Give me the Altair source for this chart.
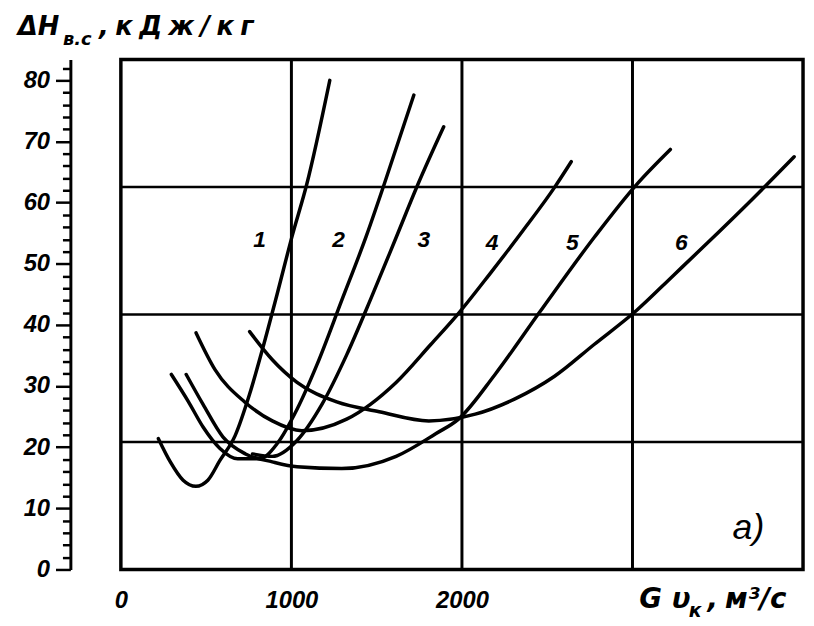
import altair as alt
import pandas as pd

# ---- curve data: x = G v_k (m3/s), y = dH (kJ/kg)
c1_x = [220, 290, 365, 440, 510, 580, 670, 755, 830, 915, 1005, 1090, 1225]
c1_y = [21.4, 17.6, 14.6, 13.6, 14.6, 17.8, 21.9, 28.7, 36.0, 44.9, 54.6, 63.0, 80.0]

c2_x = [296, 395, 482, 581, 685, 813, 917, 1033, 1150, 1295, 1440, 1544, 1718]
c2_y = [31.9, 27.5, 23.3, 19.8, 18.1, 18.1, 20.6, 26.2, 33.5, 44.0, 54.6, 63.0, 77.6]

c3_x = [772, 888, 1033, 1179, 1324, 1469, 1614, 1742, 1893]
c3_y = [18.9, 18.5, 21.1, 27.0, 35.1, 44.5, 54.3, 63.0, 72.4]

c4_x = [441, 552, 726, 888, 1062, 1324, 1614, 1817, 1980, 2165, 2357, 2543, 2641]
c4_y = [38.7, 32.7, 27.4, 24.3, 22.7, 24.6, 30.6, 36.8, 41.9, 48.4, 55.4, 62.5, 66.7]

c5_x = [383, 482, 598, 731, 888, 1033, 1295, 1614, 1846, 1980, 2194, 2456, 2775, 3025, 3222]
c5_y = [31.9, 27.0, 21.7, 18.9, 17.6, 16.8, 16.5, 18.5, 22.2, 24.6, 31.9, 42.1, 54.3, 63.0, 68.7]

c6_x = [755, 888, 1033, 1266, 1515, 1806, 2078, 2311, 2543, 2775, 3025, 3240, 3454, 3704, 3948]
c6_y = [38.9, 34.3, 30.6, 27.4, 25.8, 24.3, 25.4, 27.9, 31.6, 36.8, 42.4, 48.1, 53.8, 60.6, 67.5]

curve_names = ["1", "2", "3", "4", "5", "6"]
curve_xs = [c1_x, c2_x, c3_x, c4_x, c5_x, c6_x]
curve_ys = [c1_y, c2_y, c3_y, c4_y, c5_y, c6_y]

# curve number labels
label_text = ["1", "2", "3", "4", "5", "6"]
label_x = [813, 1277, 1776, 2177, 2647, 3286]
label_y = [53.8, 53.8, 53.8, 53.4, 53.4, 53.4]

# axes / grid
X_MAX = 4000
Y_MAX = 83.4
x_tick_values = [0, 1000, 2000]
y_tick_values = list(range(0, 84, 2))
grid_x = [1000, 2000, 3000]
grid_y = [20.85, 41.7, 62.55]

FONT = "Liberation Sans"
TFONT = "DejaVu Sans"
SP = "\u2005"

rows = []
for name, xs_, ys_ in zip(curve_names, curve_xs, curve_ys):
    for i, (xv, yv) in enumerate(zip(xs_, ys_)):
        rows.append({"curve": name, "order": i, "x": xv, "y": yv})
df = pd.DataFrame(rows)

xscale = alt.Scale(domain=[0, X_MAX], nice=False, zero=False)
yscale = alt.Scale(domain=[0, Y_MAX], nice=False, zero=False)

xaxis = alt.Axis(values=x_tick_values, title=None, domain=False, ticks=False, grid=False,
                 format="d",
                 labelFont=FONT, labelFontSize=24, labelFontWeight="bold",
                 labelFontStyle="italic", labelColor="black", labelPadding=19,
                 labelFlush=False)
yaxis = alt.Axis(values=y_tick_values, title=None, grid=False, offset=51,
                 labelExpr="datum.value % 10 === 0 ? datum.label : ''",
                 domainColor="black", domainWidth=3, tickColor="black", tickWidth=2.5,
                 tickSize={"condition": {"test": "datum.value % 10 === 0", "value": 15},
                           "value": 8},
                 labelPadding=6,
                 labelFont=FONT, labelFontSize=24, labelFontWeight="bold",
                 labelFontStyle="italic", labelColor="black")

X = alt.X("x:Q", scale=xscale, axis=xaxis)
Y = alt.Y("y:Q", scale=yscale, axis=yaxis)

lines = alt.Chart(df).mark_line(color="black", strokeWidth=3.5, interpolate="monotone",
                                strokeCap="round").encode(
    x=X, y=Y, detail="curve:N", order="order:Q")

vrules = alt.Chart(pd.DataFrame({"x": grid_x})).mark_rule(color="black", strokeWidth=3).encode(x=X)
hrules = alt.Chart(pd.DataFrame({"y": grid_y})).mark_rule(color="black", strokeWidth=2.5).encode(y=Y)

labels = alt.Chart(pd.DataFrame({"x": label_x, "y": label_y, "t": label_text})).mark_text(
    font=FONT, fontSize=23, fontWeight="bold", fontStyle="italic", color="black",
    align="center", baseline="middle").encode(x=X, y=Y, text="t:N")

# letter a)
tag = alt.Chart(pd.DataFrame({"x": [3680], "y": [6.8], "t": ["а)"]})).mark_text(
    font=FONT, fontSize=36, fontStyle="italic", color="black",
    align="center", baseline="middle").encode(x=X, y=Y, text="t:N")

# y title: ΔH в.с , кДж/кг
ytitle_main = alt.Chart(pd.DataFrame({"x": [-604, -128], "y": [87.4, 87.4],
                                     "t": ["ΔH", "," + SP + SP.join(list("кДж/кг"))]})).mark_text(
    font=TFONT, fontSize=26, fontWeight="bold", fontStyle="italic", color="black",
    align="left", baseline="alphabetic").encode(x=X, y=Y, text="t:N")
ytitle_sub = alt.Chart(pd.DataFrame({"x": [-340], "y": [85.8], "t": ["в.с"]})).mark_text(
    font=TFONT, fontSize=18, fontWeight="bold", fontStyle="italic", color="black",
    align="left", baseline="alphabetic").encode(x=X, y=Y, text="t:N")

# x title: Gυк , м³/с
xtitle_main = alt.Chart(pd.DataFrame({"x": [3040, 3440], "y": [-6.3, -6.3],
                                     "t": ["G υ", "," + SP + "м³/с"]})).mark_text(
    font=TFONT, fontSize=28, fontWeight="bold", fontStyle="italic", color="black",
    align="left", baseline="alphabetic").encode(x=X, y=Y, text="t:N")
xtitle_sub = alt.Chart(pd.DataFrame({"x": [3330], "y": [-7.7], "t": ["к"]})).mark_text(
    font=TFONT, fontSize=19, fontWeight="bold", fontStyle="italic", color="black",
    align="left", baseline="alphabetic").encode(x=X, y=Y, text="t:N")

chart = alt.layer(vrules, hrules, lines, labels, tag, ytitle_main, ytitle_sub,
                  xtitle_main, xtitle_sub).properties(
    width=689, height=515,
    autosize=alt.AutoSizeParams(type="none"),
    padding={"left": 114, "top": 49, "right": 3, "bottom": 54},
    background="white",
).configure_view(stroke="black", strokeWidth=3.5)

chart.save("out.html", embed_options={"renderer": "svg", "actions": False})
